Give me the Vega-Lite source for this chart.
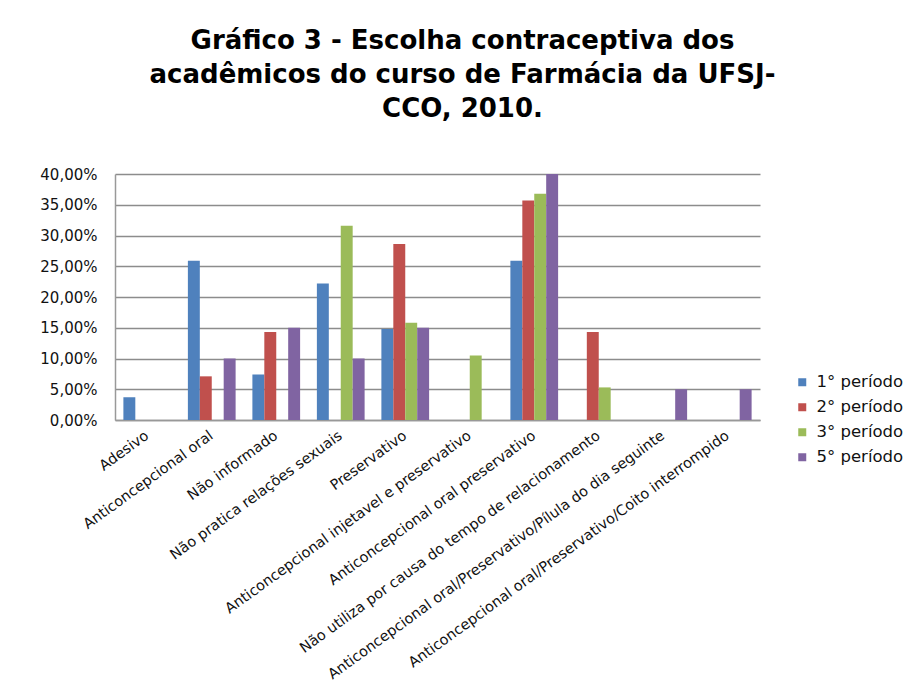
{
  "$schema": "https://vega.github.io/schema/vega-lite/v6.json",
  "autosize": "none",
  "width": 645,
  "height": 246,
  "padding": {"left": 115, "top": 174, "right": 155, "bottom": 263},
  "background": "white",
  "title": {
    "text": ["Gráfico 3 - Escolha contraceptiva dos", "acadêmicos do curso de Farmácia da UFSJ-", "CCO, 2010."],
    "anchor": "middle",
    "frame": "group",
    "dx": 25,
    "offset": 45,
    "font": "DejaVu Sans",
    "fontSize": 26,
    "fontWeight": "bold",
    "lineHeight": 34,
    "color": "#000000"
  },
  "data": {
    "values": [
      {"categoria": "Adesivo", "periodo": "1° período", "valor": 0.037},
      {"categoria": "Adesivo", "periodo": "2° período", "valor": 0},
      {"categoria": "Adesivo", "periodo": "3° período", "valor": 0},
      {"categoria": "Adesivo", "periodo": "5° período", "valor": 0},
      {"categoria": "Anticoncepcional oral", "periodo": "1° período", "valor": 0.259},
      {"categoria": "Anticoncepcional oral", "periodo": "2° período", "valor": 0.071},
      {"categoria": "Anticoncepcional oral", "periodo": "3° período", "valor": 0},
      {"categoria": "Anticoncepcional oral", "periodo": "5° período", "valor": 0.10},
      {"categoria": "Não informado", "periodo": "1° período", "valor": 0.074},
      {"categoria": "Não informado", "periodo": "2° período", "valor": 0.143},
      {"categoria": "Não informado", "periodo": "3° período", "valor": 0},
      {"categoria": "Não informado", "periodo": "5° período", "valor": 0.15},
      {"categoria": "Não pratica relações sexuais", "periodo": "1° período", "valor": 0.222},
      {"categoria": "Não pratica relações sexuais", "periodo": "2° período", "valor": 0},
      {"categoria": "Não pratica relações sexuais", "periodo": "3° período", "valor": 0.316},
      {"categoria": "Não pratica relações sexuais", "periodo": "5° período", "valor": 0.10},
      {"categoria": "Preservativo", "periodo": "1° período", "valor": 0.148},
      {"categoria": "Preservativo", "periodo": "2° período", "valor": 0.286},
      {"categoria": "Preservativo", "periodo": "3° período", "valor": 0.158},
      {"categoria": "Preservativo", "periodo": "5° período", "valor": 0.15},
      {"categoria": "Anticoncepcional injetavel e preservativo", "periodo": "1° período", "valor": 0},
      {"categoria": "Anticoncepcional injetavel e preservativo", "periodo": "2° período", "valor": 0},
      {"categoria": "Anticoncepcional injetavel e preservativo", "periodo": "3° período", "valor": 0.105},
      {"categoria": "Anticoncepcional injetavel e preservativo", "periodo": "5° período", "valor": 0},
      {"categoria": "Anticoncepcional oral preservativo", "periodo": "1° período", "valor": 0.259},
      {"categoria": "Anticoncepcional oral preservativo", "periodo": "2° período", "valor": 0.357},
      {"categoria": "Anticoncepcional oral preservativo", "periodo": "3° período", "valor": 0.368},
      {"categoria": "Anticoncepcional oral preservativo", "periodo": "5° período", "valor": 0.40},
      {"categoria": "Não utiliza por causa do tempo de relacionamento", "periodo": "1° período", "valor": 0},
      {"categoria": "Não utiliza por causa do tempo de relacionamento", "periodo": "2° período", "valor": 0.143},
      {"categoria": "Não utiliza por causa do tempo de relacionamento", "periodo": "3° período", "valor": 0.053},
      {"categoria": "Não utiliza por causa do tempo de relacionamento", "periodo": "5° período", "valor": 0},
      {"categoria": "Anticoncepcional oral/Preservativo/Pílula do dia seguinte", "periodo": "1° período", "valor": 0},
      {"categoria": "Anticoncepcional oral/Preservativo/Pílula do dia seguinte", "periodo": "2° período", "valor": 0},
      {"categoria": "Anticoncepcional oral/Preservativo/Pílula do dia seguinte", "periodo": "3° período", "valor": 0},
      {"categoria": "Anticoncepcional oral/Preservativo/Pílula do dia seguinte", "periodo": "5° período", "valor": 0.05},
      {"categoria": "Anticoncepcional oral/Preservativo/Coito interrompido", "periodo": "1° período", "valor": 0},
      {"categoria": "Anticoncepcional oral/Preservativo/Coito interrompido", "periodo": "2° período", "valor": 0},
      {"categoria": "Anticoncepcional oral/Preservativo/Coito interrompido", "periodo": "3° período", "valor": 0},
      {"categoria": "Anticoncepcional oral/Preservativo/Coito interrompido", "periodo": "5° período", "valor": 0.05}
    ]
  },
  "mark": {"type": "bar", "stroke": null},
  "encoding": {
    "x": {
      "field": "categoria",
      "type": "nominal",
      "sort": null,
      "title": null,
      "scale": {"paddingInner": 0.26, "paddingOuter": 0.13},
      "axis": {
        "labelAngle": -36,
        "labelAlign": "right",
        "labelBaseline": "middle",
        "labelFont": "DejaVu Sans",
        "labelFontSize": 14.5,
        "labelColor": "#111111",
        "labelPadding": 14,
        "labelLimit": 600,
        "ticks": false,
        "domainColor": "#999999",
        "domainWidth": 1.5
      }
    },
    "xOffset": {"field": "periodo", "type": "nominal", "scale": {"paddingInner": 0, "paddingOuter": 0}},
    "y": {
      "field": "valor",
      "type": "quantitative",
      "title": null,
      "scale": {"domain": [0, 0.4], "nice": false},
      "axis": {
        "values": [0, 0.05, 0.1, 0.15, 0.2, 0.25, 0.3, 0.35, 0.4],
        "labelExpr": "replace(format(datum.value, '.2%'), '.', ',')",
        "labelFont": "DejaVu Sans",
        "labelFontSize": 15,
        "labelColor": "#111111",
        "labelPadding": 18,
        "ticks": false,
        "domainColor": "#999999",
        "domainWidth": 1.5,
        "gridColor": "#8c8c8c",
        "gridWidth": 1.5
      }
    },
    "color": {
      "field": "periodo",
      "type": "nominal",
      "scale": {
        "domain": ["1° período", "2° período", "3° período", "5° período"],
        "range": ["#4F81BD", "#C0504D", "#9BBB59", "#8064A2"]
      },
      "legend": {
        "title": null,
        "orient": "none",
        "legendX": 679,
        "legendY": 200,
        "symbolType": "square",
        "symbolSize": 64,
        "symbolStrokeWidth": 0,
        "labelFont": "DejaVu Sans",
        "labelFontSize": 16.5,
        "labelColor": "#111111",
        "labelOffset": 6,
        "rowPadding": 8
      }
    }
  },
  "config": {
    "view": {"stroke": null}
  }
}
